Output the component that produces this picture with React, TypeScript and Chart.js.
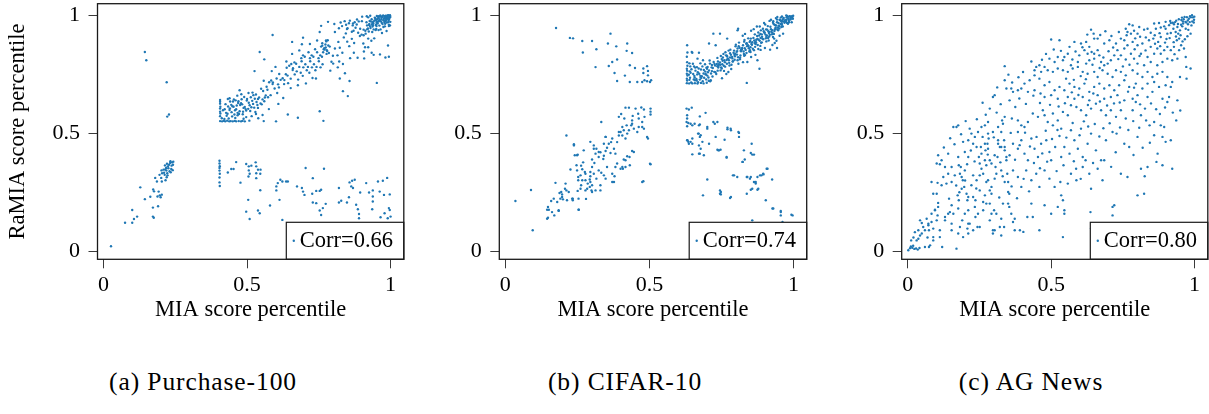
import React, { useEffect, useRef } from 'react';
import { Chart, registerables } from 'chart.js';

Chart.register(...registerables);

// ---------- data ----------
const tickValues = [0, 0.5, 1];
const tickLabels = ['0', '0.5', '1'];
const xTitle = 'MIA score percentile';
const yTitle = 'RaMIA score percentile';
const corrLabels = ['Corr=0.66', 'Corr=0.74', 'Corr=0.80'];
const captions = ['(a) Purchase-100', '(b) CIFAR-10', '(c) AG News'];

// points as [MIA percentile, RaMIA percentile] in percent
const purchasePoints: number[][] = [
  [2.6,2.0],[7.5,12.0],[10.0,12.0],[10.6,13.6],[11.7,14.6],[10.0,17.4],[12.8,27.0],[14.4,22.0],[16.3,23.0],[17.2,18.4],[17.2,14.6],[17.5,14.1],[19.0,19.0],[18.8,23.1],[19.6,23.6],[19.9,22.8],[20.3,23.9],[17.3,26.1],[17.6,25.3],[19.2,25.2],[18.0,31.0],[18.6,29.5],[19.5,32.3],[20.1,31.0],[20.3,29.5],[21.6,30.0],[20.9,34.5],[21.8,35.2],[22.4,35.9],[22.8,36.6],[23.2,37.3],[23.9,37.6],[24.2,36.6],[23.6,34.8],[23.0,33.8],[22.2,33.0],[21.3,32.3],[20.4,33.0],[21.4,36.3],[22.1,37.0],[22.6,35.1],[21.9,34.1],[21.1,33.2],[23.4,33.4],[24.1,34.3],[20.2,34.2],[22.3,32.1],[23.3,38.1],[21.5,34.6],[22.0,31.3],[24.3,37.9],[23.7,36.2],
  [14.4,84.4],[14.9,80.9],[22.0,71.6],[22.2,57.0],[22.8,57.9],
  [40.4,38.3],[40.4,37.1],[40.5,36.0],[40.4,35.2],[40.4,34.1],[40.5,32.8],[40.4,31.2],[40.4,29.1],[40.5,27.6],[43.3,33.3],[44.5,34.8],[45.3,34.8],[46.2,37.7],[47.7,29.0],[49.7,36.9],[50.6,35.9],[50.6,34.2],[50.9,32.8],[50.5,31.6],[51.5,36.2],[53.0,37.6],[53.2,35.9],[53.8,34.5],[53.2,33.0],[54.6,32.8],[54.7,34.5],[53.2,30.9],[54.6,25.8],[50.4,21.7],[49.7,16.7],[50.9,13.6],[53.8,17.2],[54.4,16.0],[58.0,19.3],[60.2,25.7],[60.2,27.4],[60.7,28.8],[61.6,30.2],[62.3,29.5],[63.6,29.5],[64.2,29.5],[61.3,21.7],[62.3,13.2],[67.4,27.4],[69.1,26.7],[69.5,25.2],[70.4,35.2],[70.0,23.8],[72.9,30.9],[72.7,24.3],[74.1,25.5],[75.3,25.5],[75.8,26.0],[72.9,20.6],[74.1,20.3],[75.3,17.2],[76.4,18.2],[77.4,20.0],[75.8,15.3],[76.8,34.9],[82.0,26.7],[82.0,20.6],[82.8,21.3],[84.8,20.6],[85.7,29.1],[86.3,27.4],[86.9,26.7],[86.6,29.8],[87.5,30.2],[85.5,22.8],[88.0,19.6],[88.6,17.7],[89.0,15.7],[89.0,13.9],[89.4,24.8],[91.5,28.8],[92.5,24.8],[93.8,25.7],[93.8,23.1],[93.8,21.0],[93.6,17.7],[95.6,29.5],[96.2,25.2],[97.3,29.8],[98.8,31.0],[97.7,23.8],[99.7,24.0],[96.5,14.3],[97.9,16.0],[99.4,18.2],[99.7,17.4],[100.0,14.6],[99.0,13.9],
  [40.6,55.1],[41.3,55.0],[41.9,55.2],[42.4,55.0],[43.1,55.3],[43.8,55.0],[44.3,55.1],[45.0,55.0],[45.7,55.2],[46.2,55.0],[47.1,55.1],[47.9,55.0],[48.4,55.2],[49.2,55.0],[50.8,55.3],[55.8,55.1],[60.1,55.0],[76.6,55.2],
  [41.2,56.3],[42.1,56.0],[42.9,57.4],[43.6,56.2],[44.8,57.1],[45.9,56.4],[46.7,57.6],[48.8,56.1],[49.7,56.8],[51.6,57.2],[53.9,56.3],[53.1,58.1],[55.4,57.7],
  [40.6,57.2],[40.7,58.3],[40.6,59.1],[40.6,60.4],[40.7,61.2],[40.6,62.5],[40.6,63.3],[40.6,64.1],
  [42.7,58.6],[42.2,60.1],[43.9,59.8],[43.4,61.3],[44.6,58.9],[44.0,60.5],[44.5,62.0],[45.8,59.7],[45.3,61.2],[45.1,63.4],[46.7,58.6],[46.2,60.1],[46.9,62.8],[47.4,59.3],[47.6,61.9],[47.0,63.5],[48.5,58.0],[48.8,60.7],[48.3,62.2],[48.1,64.4],[49.7,59.6],[49.2,61.1],[49.9,63.8],[50.4,60.3],[50.6,62.9],[50.0,64.5],[51.5,61.0],[51.8,63.7],[51.3,65.2],[52.1,62.4],[52.7,64.6],[52.2,66.1],[43.9,64.8],[45.4,64.3],[46.6,65.9],[48.0,66.5],[50.5,67.0],[53.8,60.7],[53.3,63.2],[53.1,66.4],[54.7,62.6],[54.2,65.1],[54.9,68.8],[55.4,64.3],[55.6,67.9],[56.0,63.5],[56.5,66.0],[56.8,69.7],[57.3,65.2],[57.1,68.4],[57.7,71.6],[58.2,66.1],[58.9,70.8],[58.4,72.3],[59.6,68.9],[59.0,71.5],[60.5,67.0],[60.8,70.7],[60.3,73.2],[61.1,69.4],[61.7,72.6],[61.2,75.1],[62.9,70.8],[62.4,73.3],[62.6,64.9],[63.0,72.5],[63.5,75.0],[63.8,77.7],[64.3,71.2],[64.1,74.4],[64.7,78.6],[65.2,73.1],[65.9,76.8],[65.4,79.3],[66.6,74.9],[66.0,77.5],[66.5,80.0],[67.8,72.7],[67.3,76.2],[67.1,79.4],[68.7,75.6],[68.2,78.1],[68.9,81.8],[69.4,74.3],[69.6,77.9],[69.0,80.5],[69.5,83.0],[70.8,76.7],[70.3,79.2],[70.1,82.4],[71.7,75.6],[71.2,78.1],[71.9,81.8],[71.4,84.3],[72.6,77.9],[72.0,80.5],[72.5,83.0],[73.8,76.7],[73.3,79.2],[73.1,82.4],[73.7,85.6],[74.2,78.1],[74.9,81.8],[74.4,84.3],[75.6,77.9],[75.0,80.5],[75.5,83.0],[75.8,86.7],[76.3,79.2],[76.1,82.4],[76.7,85.6],[76.2,87.1],[77.9,84.8],[77.4,86.3],[77.6,88.9],[77.0,85.5],[78.5,84.0],[78.8,86.7],[78.3,87.2],[78.1,89.4],[77.7,83.6],[76.2,88.1],[79.9,82.8],[79.4,80.3],[80.6,85.9],[80.0,79.5],[81.5,83.0],[81.8,88.7],[82.3,86.2],[82.1,80.4],[83.7,90.6],[83.2,84.1],[84.9,88.8],[84.4,92.3],[85.6,86.9],[85.0,94.5],[86.5,90.0],[86.8,95.7],[87.3,88.2],[87.1,93.4],[88.7,92.6],[88.2,96.1],[89.9,91.8],[89.4,94.3],[90.6,93.9],[90.0,97.5],[90.5,88.0],[91.8,95.7],[91.3,92.2],[92.1,94.4],[92.7,97.6],[92.2,90.1],[93.9,95.8],[93.4,98.3],[93.6,92.9],[94.0,96.5],[94.5,99.0],[94.8,93.7],[95.3,97.2],[95.1,95.4],[95.7,99.6],[96.2,98.1],[96.9,96.8],[96.4,99.9],[97.6,97.9],[97.0,99.5],[97.5,95.0],[98.8,98.7],[98.3,99.8],[98.1,96.4],[99.7,99.6],[99.2,97.1],[98.9,99.9],[99.9,99.3],[99.6,98.9],[99.8,100.0],[99.9,97.2],[99.4,95.4],[98.6,93.3],[97.0,92.5],[96.5,94.0],[95.8,93.7],[94.3,90.2],
  [93.3,89.2],[92.2,86.4],[93.4,84.1],[94.1,83.2],[96.3,83.4],[98.2,82.1],[99.4,82.4],[99.1,87.2],[95.2,71.3],[85.1,65.7],[83.4,67.8],[85.7,72.1],[75.3,59.3],[67.7,56.5],[64.2,57.9],[58.9,91.6],[78.2,97.2],[75.8,95.5],[75.3,92.9],[69.5,90.5],[65.7,88.7],[69.1,87.7],[54.4,84.4],[56.0,81.3],[52.6,76.3],[47.4,68.2],[43.3,64.5],[55.8,72.2],[58.6,76.3],[59.9,78.1],[63.7,80.4],[57.6,60.2],[60.9,62.4],[65.2,69.1],[67.7,70.3],[70.5,71.1],[72.8,73.4],[74.0,73.2],
  [65.7,83.6],[68.2,85.1],[71.9,87.8],[74.4,89.3],[80.6,92.9],[82.0,94.5],[84.5,96.0],[85.8,97.7],[88.3,98.2],[90.1,99.4],[91.7,99.6],[92.2,99.1],[92.9,99.8],[80.4,96.3],[82.6,96.9],[84.0,97.5],[86.5,93.0],[87.8,94.7],[89.3,91.2],[91.1,86.4],[90.7,84.6],[87.2,84.1],[85.9,81.8],[83.4,79.3],[81.6,77.9],[79.0,76.5],[88.5,82.0],[90.8,81.7],[82.3,73.2],[84.1,75.4],[94.7,98.6],[95.2,99.7],[95.9,98.8],[97.4,99.9],[97.9,99.0],[99.0,98.5],[97.5,98.0],[95.8,97.3],[95.3,98.2],[93.7,96.7],[93.1,97.4],[92.6,96.3],[99.4,96.0],[99.8,95.7],[98.2,97.4],
  [92.4,93.1],[93.0,94.6],[93.7,95.2],[94.1,94.0],[94.9,95.9],[95.5,96.5],[95.0,94.2],[96.1,95.6],[96.6,97.5],[97.2,96.3],[97.8,97.1],[98.4,98.0],[98.0,95.3],[98.7,96.9],[99.3,97.8],[99.6,99.0],[99.0,99.4],[98.5,99.3],[97.7,98.6],[96.8,98.4],[96.0,97.7],[95.1,96.8],[94.4,97.8],[93.5,96.1],[92.8,95.4],[91.9,94.1],[91.2,93.4],[90.6,91.5],[91.6,97.0],[94.0,97.3],[96.3,99.5],[97.9,99.6],[99.5,98.4],[99.2,100.0],[98.1,98.8],[96.9,99.1],[95.6,98.7],[94.8,97.9],[93.8,96.9],[92.5,95.9],
  [83.1,95.4],[85.5,96.6],[86.9,96.5],[88.9,97.4],[87.5,97.0],[84.8,94.2],
  [41.6,59.7],[42.5,62.3],[43.2,58.2],[44.9,61.4],[45.6,57.9],[46.4,61.7],[47.2,58.1],[47.9,62.7],[48.6,59.1],[49.5,60.2],[50.9,61.8],[51.1,59.4],[52.5,60.8],[53.6,61.9],[52.9,59.0],[44.1,63.4],[46.0,63.9],[49.0,65.3],[51.9,67.2],[53.8,64.5],[55.1,62.2],[56.2,65.1],
  [76.9,86.0],[77.3,87.6],[77.8,85.2],[76.5,84.3],[77.5,89.3]
];

const cifarPoints: number[][] = [
  [17.6,94.6],[22.4,90.4],[23.5,90.2],[26.7,89.1],[30.1,89.1],[26.9,84.2],[31.6,85.6],[31.3,78.0],[36.5,92.2],[35.6,88.0],[38.5,86.8],[42.3,88.0],[42.1,84.9],[44.0,84.0],[43.2,78.8],[38.8,81.2],[37.1,80.2],[35.9,78.5],[37.9,75.5],[38.8,72.1],[41.5,74.4],[45.0,77.6],[47.9,77.4],[49.2,78.4],[47.9,75.5],[49.5,76.4],[49.5,74.5],[43.2,71.7],[45.8,71.7],[47.5,71.7],[48.3,72.4],[49.2,72.0],[50.2,71.7],[50.6,72.4],
  [3.5,21.2],[8.9,25.9],[9.5,8.8],[14.5,13.7],[14.8,18.7],[15.1,17.5],[15.9,21.2],[16.8,22.2],[17.0,15.1],[17.4,28.9],[18.5,17.0],[18.8,24.6],[19.4,25.0],[19.7,24.0],[19.1,22.2],[20.0,21.9],[20.9,28.6],[20.7,26.4],[21.2,25.7],[21.2,49.0],[22.6,34.6],[23.4,22.2],[23.8,45.3],[24.1,40.6],[24.7,36.4],[24.9,34.2],[25.1,40.9],[25.3,31.4],[25.3,30.0],[26.1,32.1],[26.3,27.9],[26.1,26.4],[26.3,36.2],[26.7,34.7],[27.0,37.6],[27.2,42.7],[25.4,17.5],[28.0,22.1],[29.3,30.3],[29.5,33.5],[29.9,25.7],[30.1,35.6],[30.9,37.3],[30.1,38.8],[31.3,41.3],[31.6,43.4],[30.7,44.8],[32.4,39.9],[33.0,41.9],[34.0,39.0],[34.2,40.4],[34.8,42.4],[35.3,43.8],[34.8,48.4],[35.9,45.5],[36.7,46.2],[36.5,41.6],[37.7,43.4],[38.2,41.3],[38.8,46.2],[39.4,49.0],[40.0,50.5],[40.6,49.0],[41.1,51.2],[41.7,47.7],[42.3,49.8],[42.9,51.2],[43.7,53.3],[44.6,51.9],[45.8,50.5],[46.3,52.6],[44.0,54.0],[47.5,54.7],[47.5,52.6],[49.2,48.4],[49.5,47.7],[50.2,37.0],[50.4,36.8],[47.9,29.6],
  [21.4,21.5],[23.4,21.5],[25.4,22.2],[27.8,25.7],[29.3,27.2],[30.1,27.9],[31.6,30.7],[32.4,34.2],[33.3,33.2],[34.2,32.1],[35.3,35.6],[37.1,29.3],[37.9,31.7],[38.8,37.1],[40.6,35.6],[41.1,38.8],[42.3,40.2],[43.2,36.4],[44.0,42.4],[40.8,34.9],[30.1,25.0],[33.0,25.7],[28.6,28.6],[27.8,30.0],[29.5,31.7],[30.7,32.8],[27.6,33.5],[25.1,25.5],
  [23.8,44.8],[24.9,40.6],[29.5,46.3],[30.7,43.4],[32.4,42.0],[34.2,45.5],[34.8,48.4],[37.1,47.7],[39.4,50.5],[40.6,52.6],[42.1,53.3],[44.0,55.4],[46.3,56.2],[48.1,51.9],[47.5,29.3],[28.4,26.4],[22.0,25.0],[19.7,22.9],[18.0,20.8],[16.2,16.5],[14.8,14.1],[14.5,17.5],[18.5,17.3],[23.2,22.2],[25.5,17.5],[26.7,30.0],[27.8,32.8],[29.5,29.3],[31.3,25.7],[33.0,27.9],[34.8,30.7],[37.1,32.8],[37.7,29.3],[40.0,34.9],[41.7,38.5],[43.1,39.9],[44.6,42.0],[41.7,35.6],[38.2,35.6],
  [33.3,54.7],[39.4,56.9],[41.7,60.8],[42.9,60.8],[45.2,60.4],[48.1,60.0],[50.4,60.4],[50.4,57.9],[48.3,56.9],[50.4,59.1],[44.2,57.3],[46.1,58.2],[47.2,60.9],[41.3,56.2],[40.2,58.1],
  [62.9,60.4],[63.7,60.0],[63.1,57.6],[63.1,56.2],[63.5,54.3],[63.1,52.9],[64.7,60.8],[63.1,47.0],[63.5,46.3],[64.9,45.5],[64.9,41.0],[67.2,53.3],[67.5,57.1],[67.1,49.8],[67.5,48.4],[68.4,46.3],[67.2,44.8],[67.2,41.3],[69.5,58.6],[70.1,51.9],[70.7,45.5],[70.1,30.3],[68.6,23.6],[73.6,54.7],[73.0,48.4],[73.6,43.0],[74.2,42.7],[74.8,25.0],[74.8,24.0],[77.1,51.6],[78.3,51.2],[76.8,39.9],[78.3,22.9],[80.9,50.5],[81.1,48.4],[82.8,42.7],[82.4,37.8],[79.4,32.1],[80.5,31.4],[83.8,24.3],[85.5,45.5],[85.7,40.9],[83.8,31.4],[84.9,30.7],[86.3,29.3],[87.5,31.4],[88.9,32.1],[89.5,32.8],[91.0,34.9],[92.6,30.3],[85.7,26.4],[87.8,26.4],[90.4,21.5],[92.7,18.0],[95.6,16.5],[95.6,15.1],[99.7,15.1],[85.7,13.0],[96.2,12.3],[86.9,28.6],
  [62.9,54.7],[64.3,54.0],[64.9,53.3],[65.7,54.0],[67.5,53.7],[63.2,47.0],[64.3,46.3],[64.9,47.7],[63.7,45.5],[66.9,49.8],[67.8,49.1],[67.8,43.4],[67.5,41.3],[68.9,40.6],[70.1,52.6],[72.2,54.7],[72.7,54.0],[73.9,42.7],[74.7,43.0],[76.1,47.2],[76.8,39.6],[77.1,52.3],[78.2,51.9],[81.1,50.1],[85.2,41.6],[86.3,40.9],[82.3,37.8],[83.1,38.8],[79.0,32.1],[84.0,31.4],[85.2,31.4],[86.9,29.3],[88.4,32.1],[89.6,32.5],[90.7,34.9],[85.2,26.0],[87.5,26.0],[74.5,25.7],[74.5,24.3],[78.0,22.5],[93.0,18.0],[95.6,17.0],[99.3,15.4],
  [63.0,71.2],[63.1,72.3],[63.0,73.1],[63.2,74.4],[63.0,75.2],[63.1,76.5],[63.0,77.3],[63.2,78.6],[63.1,80.1],[63.0,82.4],[63.2,84.2],[63.1,87.3],[63.8,71.1],[63.9,72.6],[64.1,73.5],[63.7,74.8],[64.0,76.2],[64.2,78.3],[63.9,79.6],[64.7,84.4],
  [64.9,71.1],[65.8,71.2],[66.7,71.0],[67.9,71.3],[68.8,71.1],[69.9,71.4],[71.1,72.0],[83.8,71.3],
  [65.7,73.6],[65.2,75.1],[65.9,77.8],[66.4,72.3],[66.6,74.9],[66.0,76.5],[66.5,78.0],[67.8,73.7],[67.3,75.2],[67.1,77.4],[67.7,79.6],[68.2,74.1],[68.9,76.8],[68.4,78.3],[68.6,80.9],[69.0,73.5],[69.5,75.0],[69.8,77.7],[69.3,79.2],[70.1,74.4],[70.7,76.6],[70.2,78.1],[70.9,80.8],[71.4,75.3],[71.6,77.9],[71.0,79.5],[72.5,76.0],[72.8,78.7],[72.3,80.2],[65.1,79.4],[66.7,81.6],[67.2,84.1],[64.9,84.1],[70.7,88.0],[72.2,92.2],[74.5,92.2],[77.0,90.1],[73.0,87.3],[70.6,72.2],[71.3,72.4],[75.9,76.4],[77.4,75.9],
  [73.9,77.8],[73.4,79.3],[73.6,81.9],[74.0,78.5],[74.5,80.0],[74.8,82.7],[75.3,79.2],[75.1,81.4],[75.7,83.6],[76.2,80.1],[76.9,82.8],[76.4,84.3],[77.6,80.9],[77.0,82.5],[77.5,85.0],[78.8,81.7],[78.3,83.2],[78.1,85.4],[79.7,82.6],[79.2,84.1],[79.9,86.8],[80.4,83.3],[80.6,85.9],[80.0,87.5],[81.5,82.0],[81.8,84.7],[81.3,86.2],[81.1,88.4],[82.7,84.6],[82.2,86.1],[82.9,88.8],[83.4,85.3],[83.6,87.9],[83.0,89.5],[84.5,86.0],[84.8,88.7],[84.3,90.2],[85.1,86.4],[85.7,88.6],[85.2,90.1],[86.9,87.8],[86.4,89.3],[86.6,91.9],[87.0,88.5],[87.5,90.0],[87.8,92.7],[88.3,89.2],[88.1,91.4],[88.7,93.6],[89.2,90.1],[89.9,92.8],[89.4,94.3],[90.6,90.9],[90.0,92.5],[90.5,94.0],[91.8,91.7],[91.3,93.2],[91.1,95.4],[92.7,92.6],[92.2,94.1],[92.9,96.8],[93.4,93.3],[93.6,95.9],[93.0,97.5],[94.5,94.0],[94.8,96.7],[94.3,98.2],[95.1,95.4],[95.7,97.6],[95.2,98.1],[96.9,96.8],[96.4,97.3],[96.6,98.9],[97.0,97.5],[97.5,98.0],[97.8,99.7],[98.3,98.2],[98.1,99.4],[98.7,99.6],[99.2,99.1],[99.9,99.8],[99.4,99.3],[99.6,98.9],[99.0,98.5],[98.5,97.0],[97.8,96.7],[96.3,95.2],[95.1,94.4],[94.7,93.6],[93.2,92.1],[92.9,90.8],[91.4,89.3],[90.6,88.9],[89.0,88.5],[88.5,87.0],[87.8,85.7],[86.3,85.2],[85.1,84.4],[84.7,84.6],[83.2,83.1],[82.9,82.8],[81.4,81.3],[80.6,80.9],[79.0,80.5],[78.5,79.0],[77.8,78.7],[76.3,78.2],[75.1,77.4],[74.7,76.6],[73.2,75.1],
  [80.6,93.6],[80.8,94.3],[84.0,80.2],[87.5,80.9],[88.2,77.3],[91.9,85.4],[94.1,89.2],[94.3,86.1],[91.2,90.4],[93.3,90.1],[95.2,91.3],[96.4,92.2],[90.2,96.1],[88.3,95.2],[86.2,94.1],[85.3,93.4],[83.2,92.1],[82.4,91.3],[91.7,97.6],[92.2,98.1],[93.9,98.8],[94.4,99.3],[95.6,99.0],[96.0,99.5],[97.5,99.9],[89.8,96.7],[87.3,95.2],[98.1,96.4],[99.4,97.0],[99.8,98.5],[96.2,98.0],[95.5,96.3],[94.0,95.7],[93.8,94.2],[92.3,93.0],[91.5,92.5],[90.8,91.4],[89.0,91.9],[88.6,90.4],[87.1,89.6],[86.6,88.1],[85.4,87.8],[84.2,87.3],[83.9,86.9],[82.1,85.4],[81.7,85.0],[80.3,84.5],[79.5,83.2],[78.0,82.1],[77.2,81.6],[76.8,81.0],[75.4,80.7],[74.1,79.2],[73.6,78.4],[72.0,77.6],[71.7,76.3],[70.3,75.8],[69.6,74.9],[68.0,73.4],[67.5,72.7],[66.3,73.0],[65.8,72.4],[75.2,73.3],[76.7,75.1],[78.4,77.2],[80.9,79.4],[82.5,80.1],[85.3,82.3],[86.8,83.2],[88.6,85.3],[90.1,86.1],[92.7,87.4],[93.5,88.2],
  [72.6,79.3],[73.8,80.4],[74.6,79.0],[75.5,82.1],[76.0,80.9],[76.6,83.0],[77.3,81.5],[78.0,83.9],[78.7,82.3],[79.4,85.0],[79.8,83.7],[80.5,84.8],[81.0,86.9],[81.9,85.6],[82.5,87.3],[83.1,86.0],[83.8,88.1],[84.4,87.0],[85.0,89.1],[85.6,87.5],[86.1,90.4],[86.8,88.8],[87.4,91.2],[87.9,89.6],[88.5,92.1],[89.1,90.9],[89.7,93.2],[90.3,91.8],[90.9,93.9],[91.5,92.9],[92.0,95.1],[92.6,93.7],[93.2,96.2],[93.8,94.8],[94.3,97.0],[94.9,95.6],[95.4,97.9],[95.9,96.6],[96.5,98.5],[97.1,97.9],[97.6,99.0],[98.2,98.6],[98.8,99.5],[99.5,99.6],[99.0,98.2],[98.4,97.6],[97.4,97.2],[96.0,96.0],[95.8,95.0],[94.6,94.8],[93.5,94.0],[92.5,91.9],[91.6,91.0],[90.4,90.2],[89.5,89.8],[88.8,88.3],[87.6,87.4],[86.7,86.6],[85.9,85.8],[84.9,85.2],[83.7,84.0],[82.8,83.6],[81.6,82.9],[80.8,82.2],[79.6,81.1],[78.9,80.4],[77.7,79.8],[76.9,79.4],[75.8,78.6],[74.9,77.9],[73.7,76.5],[72.9,75.8],
  [64.5,71.5],[65.4,72.8],[66.9,71.6],[67.7,74.3],[68.5,72.0],[69.7,72.8],[64.3,75.6],[65.6,74.3],[66.8,75.8],[67.9,77.0],[68.8,75.3],[69.4,76.1],[70.5,73.6],[71.9,74.0],[70.0,77.3],[71.7,78.9],[64.6,77.1],[65.5,78.3]
];

const agNewsPoints: number[][] = [
  [0.2,0.3],[0.8,1.2],[1.1,1.9],[1.6,1.4],[2.3,0.9],[2.9,1.1],[3.5,0.6],[4.1,1.3],[1.9,2.2],[1.2,4.5],[3.7,5.2],[6.0,1.7],[7.4,1.7],[8.9,5.9],
  [4.9,7.4],[6.0,8.8],[7.2,10.9],[8.3,15.8],[9.5,17.3],[10.6,18.7],[10.1,13.0],[12.0,1.7],[13.0,14.4],[14.1,15.8],[15.3,11.6],[17.0,1.0],[17.6,7.4],[18.2,10.2],[19.0,13.0],[19.9,15.8],[21.1,11.6],[22.8,8.8],[23.6,14.4],[25.1,10.2],[26.3,17.3],[27.4,20.1],[28.6,13.0],[29.7,8.8],[30.9,15.8],[32.6,6.6],[33.6,10.2],[35.0,20.1],[35.4,18.7],[37.3,13.7],[39.1,8.8],[40.3,8.1],[41.7,14.4],[43.1,20.1],[43.6,14.4],[45.9,8.8],[47.7,19.4],[50.0,15.8],[52.3,18.7],[54.1,5.9],[54.6,17.3],[54.6,15.8],[63.7,16.5],[63.9,9.5],[71.4,18.7],[71.4,15.1],[72.0,19.4],
  [2.0,5.7],[2.5,8.0],[3.7,8.8],[4.3,6.6],[3.1,4.5],[4.9,11.9],[5.4,10.2],[4.3,13.0],[6.6,13.7],[7.2,11.6],[7.4,8.8],[8.3,12.3],[8.9,9.5],[9.5,17.5],[10.4,15.1],[11.2,8.8],[11.2,5.9],[8.9,4.5],[7.8,2.4],[6.9,5.7],[10.1,24.3],[10.6,20.4],[10.4,28.9],[11.2,36.8],[11.8,38.5],[13.0,35.6],[14.1,32.8],[13.5,28.6],[14.4,22.2],[14.7,16.5],[15.3,19.4],[13.0,13.0],[15.9,15.8],[15.3,8.8],[17.6,18.0],[17.8,21.5],[17.4,23.6],[18.2,32.8],[17.6,39.9],[18.5,35.6],[18.8,26.4],[19.2,30.0],[19.9,34.2],[20.5,24.3],[20.8,21.5],[21.1,17.3],[21.6,11.6],[20.8,9.5],[21.1,7.4],[19.3,5.9],[22.2,27.9],[22.8,22.9],[23.4,18.7],[23.6,21.5],[24.3,10.2],[24.5,15.8],[25.1,32.1],[24.8,39.9],[25.5,44.1],[25.1,37.1],[25.7,34.9],[26.3,32.8],[26.9,38.5],[27.1,42.7],[27.8,45.5],[28.0,49.8],[28.2,47.7],[27.4,36.4],[28.0,30.0],[28.6,25.7],[28.6,20.1],[29.2,15.8],[30.3,8.8],[30.1,17.3],[29.2,24.3],[30.3,30.7],[30.6,35.6],[31.3,39.9],[31.5,45.5],[32.1,44.1],[32.6,50.5],[33.2,54.0],[32.9,55.4],[33.8,56.9],[33.6,47.0],[33.8,44.1],[34.4,39.9],[34.7,32.8],[35.0,29.3],[35.4,24.3],[36.1,15.8],[36.7,12.3],[37.3,8.8],[33.2,20.1],[32.6,13.7],[32.1,10.2],[29.7,7.4],
  [98.4,99.6],[99.1,100.0],[97.3,99.2],[96.2,98.3],[98.0,98.5],[99.8,98.1],[95.4,98.0],[97.6,97.8],[96.8,97.2],[94.5,98.3],[95.9,97.4],[97.1,96.9],[99.4,99.1],[99.9,99.4],[96.5,99.3],[93.6,97.7],[94.2,96.3],[95.3,96.0],[99.2,97.4],[98.3,97.1],[97.7,96.2],[99.7,96.9],[96.0,96.5],[93.2,97.1],[92.4,96.8],[91.5,97.6],[95.6,99.0],[98.7,99.1],
  [85.9,96.5],[87.6,96.7],[89.9,97.2],[91.7,96.7],[92.8,96.2],[91.1,95.8],[89.4,95.3],[88.2,94.8],[94.0,95.0],[92.6,94.3],[94.9,93.6],[93.4,92.9],[95.7,95.3],[96.9,94.3],[98.6,92.2],[83.6,94.3],[82.4,93.9],[80.7,95.0],[78.4,95.7],[77.2,96.2],[76.0,94.3],[76.6,92.9],[77.8,92.2],[80.1,92.2],[78.9,93.4],[84.7,92.6],[86.5,94.3],[89.9,94.3],[90.5,92.2],[91.7,92.5],[94.3,92.2],[95.1,91.5],[94.6,90.1],[93.8,89.4],[63.9,93.9],[64.8,92.2],
  [50.0,89.7],[52.9,89.4],[65.0,90.1],[66.2,90.1],[63.3,86.6],[61.6,85.2],[62.7,83.7],[64.1,84.4],[65.0,83.7],[66.2,85.2],[63.3,80.9],[62.2,79.5],[65.0,81.6],[66.8,83.0],[68.5,88.0],[70.3,89.4],[72.6,88.0],[74.3,90.1],[75.5,89.4],[76.6,87.3],[78.4,88.7],[80.1,87.3],[81.8,88.0],[84.7,86.6],[87.0,85.9],[85.9,83.7],[88.2,83.7],[89.4,85.2],[90.5,86.6],[91.7,85.2],[92.8,86.6],[94.6,85.2],[96.3,85.9],[96.9,82.3],[94.0,81.6],[92.2,80.9],[90.5,81.6],[88.8,80.2],[87.0,78.8],[84.7,80.2],[82.4,78.8],[80.1,79.5],[78.9,81.6],[77.8,83.7],[76.0,81.2],[74.3,83.0],[73.1,85.2],[72.0,83.0],[70.8,80.9],[69.7,79.5],[68.5,78.8],[67.4,80.2],[59.8,83.0],[59.3,80.2],[56.9,78.8],[56.4,86.6],[54.6,82.3],[54.1,80.9],[55.8,83.7],[52.3,82.3],[51.2,80.2],[49.4,81.6],[47.7,78.1],[45.9,78.8],[44.8,78.1],[58.1,88.7],[60.4,88.0],[62.2,88.7],[81.3,83.7],[83.6,82.3],[75.5,85.9],[85.6,90.1],[88.2,90.8],[87.3,88.7],[97.1,78.1],
  [33.8,78.4],[44.2,76.7],[46.5,76.0],[48.8,76.7],[50.6,76.0],[52.3,77.4],[54.1,76.7],[55.8,76.0],[57.5,77.4],[59.3,78.1],[61.0,76.0],[62.7,75.2],[65.0,76.0],[66.2,73.8],[67.9,76.7],[69.7,75.2],[71.4,73.8],[72.6,76.7],[74.3,76.0],[76.0,74.5],[78.4,76.7],[80.1,75.2],[81.8,73.8],[83.6,76.0],[85.3,73.8],[87.0,75.2],[88.8,76.0],[90.5,73.8],[92.2,71.7],[91.7,69.6],[89.9,70.3],[87.6,69.6],[85.9,71.7],[83.6,71.0],[81.8,68.9],[79.5,71.0],[77.2,69.6],[75.5,72.4],[73.7,70.3],[72.0,68.2],[70.3,70.3],[68.5,68.9],[66.8,71.0],[65.0,69.6],[63.3,67.5],[61.6,71.0],[59.8,68.9],[58.1,69.6],[56.4,71.0],[54.6,68.2],[52.9,69.6],[51.2,68.2],[49.4,71.7],[47.7,70.3],[45.9,73.1],[44.2,74.5],[42.5,72.4],[40.7,71.0],[39.6,68.9],[36.1,68.9],[36.7,67.5],[38.4,68.2],[41.9,67.5],[44.2,68.2],[46.3,66.8],[47.7,65.3],[50.0,66.1],[52.3,64.6],[55.8,65.3],[58.1,64.6],[61.0,65.3],[63.3,63.9],[66.2,66.1],[68.5,64.6],[70.8,65.3],[73.1,66.1],[75.5,63.9],[78.4,64.6],[80.1,66.1],[83.6,65.3],[85.3,67.5],[88.8,64.6],[91.1,65.3],[94.0,63.9],[94.9,73.8],[97.2,73.1],[98.6,77.4],
  [28.6,60.4],[29.7,65.3],[30.3,66.1],[33.8,72.4],[34.4,68.9],[35.5,63.9],[37.5,61.1],[31.5,52.6],[29.7,50.5],[28.0,54.7],[26.9,53.3],[25.7,52.6],[24.5,50.5],[23.4,48.4],[21.6,51.9],[22.2,49.8],[21.1,47.0],[19.3,46.3],[17.6,53.3],[17.0,52.6],[15.9,52.6],[36.3,56.2],[38.4,55.4],[39.6,53.3],[40.7,52.6],[41.9,54.7],[43.6,58.3],[45.4,56.9],[47.1,59.7],[47.7,57.6],[48.8,54.7],[50.6,58.3],[52.3,55.4],[54.1,59.0],[55.8,57.6],[56.9,61.8],[58.8,61.1],[60.4,59.7],[62.2,57.6],[63.9,60.4],[65.6,62.5],[67.4,59.7],[69.1,57.6],[70.8,59.7],[72.6,56.9],[74.3,59.7],[76.0,56.2],[78.4,59.7],[79.5,63.2],[81.3,57.6],[83.1,55.4],[84.3,53.3],[85.9,54.7],[88.2,53.3],[89.4,52.6],[90.5,63.2],[50.6,53.3],[53.5,51.9],[56.9,51.2],[60.4,51.9],[38.4,50.5],
  [10.1,37.1],[10.6,40.6],[14.1,41.3],[15.3,35.6],[17.8,36.4],[19.9,42.0],[21.1,39.9],[22.8,45.5],[24.0,44.1],[25.7,41.3],[26.9,45.5],[28.0,43.4],[28.6,38.5],[29.2,37.1],[30.3,40.6],[31.5,47.0],[32.6,44.1],[33.8,42.7],[34.4,38.5],[35.5,40.6],[36.7,45.5],[38.4,43.4],[39.6,47.0],[40.7,41.3],[41.9,38.5],[43.1,47.7],[44.2,43.4],[45.4,39.9],[46.5,45.5],[48.3,47.0],[49.4,42.0],[50.0,38.5],[51.4,44.1],[52.9,48.8],[54.6,44.1],[53.5,39.9],[56.4,41.3],[58.1,47.0],[59.3,43.4],[61.0,39.9],[62.7,45.5],[63.9,49.8],[65.6,42.7],[67.4,38.5],[69.1,47.0],[71.4,50.5],[75.5,45.5],[77.2,44.1],[80.1,48.4],[85.9,49.1],[88.8,48.4],[89.9,46.3],[87.1,41.3],[86.7,37.8],[88.8,36.4],[91.7,47.0],[92.2,34.9],[83.6,35.6],
  [8.3,29.3],[8.9,24.3],[11.8,27.9],[12.4,31.4],[15.3,29.3],[16.4,32.1],[18.8,31.4],[19.7,27.2],[21.1,22.9],[22.8,32.1],[24.0,30.0],[25.1,25.7],[26.9,23.6],[27.4,29.3],[29.2,27.2],[30.9,32.8],[32.6,34.2],[33.8,29.3],[35.0,25.0],[36.7,34.2],[38.4,31.4],[39.6,27.2],[41.3,34.2],[43.1,30.0],[44.8,32.8],[45.9,27.2],[47.7,34.2],[49.4,30.7],[51.2,27.2],[53.2,29.3],[53.5,23.6],[54.1,21.5],[55.8,28.6],[56.9,32.8],[58.8,30.0],[61.0,35.6],[63.3,32.8],[63.9,26.4],[66.2,34.9],[67.9,30.0],[68.5,38.5],[74.3,32.8],[76.6,31.4],[80.1,23.6],[82.4,24.3],[81.3,34.9],[82.6,31.7],[58.7,34.9],
  [55.2,73.1],[57.9,72.6],[60.3,74.2],[62.1,72.9],[64.4,79.0],[66.9,77.6],[68.2,82.1],[70.0,84.7],[71.6,86.3],[73.4,81.4],[75.0,78.3],[77.3,79.0],[79.1,85.6],[80.8,82.7],[82.9,85.1],[84.1,89.4],[86.2,87.9],[88.0,86.9],[89.7,88.4],[91.3,90.3],[92.7,88.6],[93.0,83.5],[95.3,87.3],[96.6,89.8],[97.8,93.8],[98.9,95.7],[97.5,91.1],[95.8,88.9],[93.5,91.0],[90.2,89.9],[87.8,92.4],[86.1,91.5],[83.0,90.6],[81.0,90.9],[79.3,90.2],[76.3,91.5],[73.6,92.9],[71.0,91.2],[68.9,93.2],[67.1,91.6],[62.6,91.8],[60.9,86.4],[58.5,84.6],[57.4,81.2],[53.4,84.9],[50.9,85.5],[48.2,83.6],[46.8,81.1],[43.1,80.4],[40.2,75.9],[38.6,73.7],[36.4,71.5],[35.1,74.8],[31.2,69.4],[32.4,62.3],[31.0,58.7],[27.2,57.8],[26.1,62.9],[24.1,55.9],[20.2,55.1],[18.6,49.5],[16.3,45.3],[14.8,47.8],[12.6,43.9],[38.9,64.7],[41.2,62.4],[43.8,65.9],[46.1,62.8],[49.6,62.0],[52.6,61.3],[54.8,62.7],[57.2,67.3],[59.5,66.2],[62.8,61.9],[64.7,66.8],[67.0,63.4],[69.5,61.7],[71.9,62.6],[73.9,63.0],[76.8,67.6],[78.9,69.3],[81.0,62.2],[82.7,60.4],[84.8,62.6],[86.6,60.1],[87.9,58.1],[89.7,60.9],[92.4,58.7],[93.6,55.4],[95.0,59.6],
  [20.7,36.8],[22.0,42.6],[23.3,38.0],[26.1,48.4],[27.9,40.9],[30.0,48.2],[32.3,37.6],[35.9,50.1],[37.4,38.7],[39.0,44.9],[40.9,50.2],[42.6,44.3],[44.9,48.4],[46.9,41.4],[48.1,51.0],[50.3,47.5],[52.2,51.3],[55.3,48.1],[57.5,54.3],[59.9,49.1],[61.4,55.0],[62.9,52.8],[65.2,53.9],[66.8,48.6],[68.2,52.1],[70.4,54.2],[72.8,49.8],[74.0,52.4],[76.9,51.3],[78.6,55.1],[80.7,52.3],[16.9,27.8],[18.0,24.9],[20.0,29.9],[23.9,26.5],[26.3,20.8],[31.9,22.7],[33.1,31.7],[36.2,27.4],[38.1,22.4],[40.4,30.6],[42.3,25.3],[44.0,37.3],[46.1,35.1],[48.6,37.9],[51.9,33.9],[54.3,36.4],[57.9,38.1],[60.3,30.6],[62.0,38.5],[64.6,37.3],[70.9,35.7],[72.5,41.9],[78.7,40.7],[81.9,43.8],[84.4,45.9]
];

// ---------- layout constants ----------
const SERIF = '"Liberation Serif", "Times New Roman", Times, serif';
const BLUE = '#1f77b4';
const CANVAS_H = 340;
const BOX_TOP = 3.7;
const BOX_BOTTOM = 259.3;
const X_MIN = -0.021;
const X_MAX = 1.046;
const Y_MIN = -0.0352;
const Y_MAX = 1.049;

type PanelSpec = {
  left: number;
  width: number;
  boxLeft: number;
  boxRight: number;
  points: number[][];
  corr: string;
  showYTitle: boolean;
};

const panels: PanelSpec[] = [
  { left: 0, width: 405, boxLeft: 97.5, boxRight: 404.3, points: purchasePoints, corr: corrLabels[0], showYTitle: true },
  { left: 405, width: 405, boxLeft: 499.3, boxRight: 806.7, points: cifarPoints, corr: corrLabels[1], showYTitle: false },
  { left: 810, width: 399, boxLeft: 901.7, boxRight: 1208, points: agNewsPoints, corr: corrLabels[2], showYTitle: false },
];

const captionCenters = [203, 625, 1031];

const framePlugin = {
  id: 'frameAndLegend',
  afterDatasetsDraw(chart: any) {
    const { ctx, chartArea: a } = chart;
    ctx.save();
    const lw = 117.5;
    const lh = 37;
    const lx = a.right - lw;
    const ly = a.bottom - lh;
    ctx.fillStyle = '#ffffff';
    ctx.fillRect(lx, ly, lw, lh);
    ctx.strokeStyle = '#1a1a1a';
    ctx.lineWidth = 1.2;
    ctx.strokeRect(lx, ly, lw, lh);
    ctx.fillStyle = BLUE;
    ctx.beginPath();
    ctx.arc(lx + 7.5, ly + lh / 2, 1.2, 0, Math.PI * 2);
    ctx.fill();
    ctx.fillStyle = '#000000';
    ctx.font = `22.5px ${SERIF}`;
    ctx.textAlign = 'left';
    ctx.textBaseline = 'alphabetic';
    ctx.fillText(chart.data.datasets[0].label, lx + 13.5, a.bottom - 12);
    ctx.strokeStyle = '#1a1a1a';
    ctx.lineWidth = 1.3;
    ctx.strokeRect(a.left, a.top, a.right - a.left, a.bottom - a.top);
    ctx.restore();
  },
};

function Panel({ spec }: { spec: PanelSpec }) {
  const ref = useRef<HTMLCanvasElement>(null);
  useEffect(() => {
    if (!ref.current) return;
    const data = spec.points.map(([x, y]) => ({ x: x / 100, y: y / 100 }));
    const tickFont = { family: SERIF, size: 22 };
    const titleFont = { family: SERIF, size: 22.5 };
    const chart = new Chart(ref.current, {
      type: 'scatter',
      data: {
        datasets: [
          {
            label: spec.corr,
            data,
            backgroundColor: BLUE,
            borderColor: BLUE,
            pointRadius: 1.2,
            pointBorderWidth: 0,
            pointHoverRadius: 1.2,
          },
        ],
      },
      options: {
        animation: false,
        responsive: false,
        devicePixelRatio: 1,
        events: [],
        layout: {
          padding: {
            left: 0,
            top: BOX_TOP,
            right: spec.left + spec.width - spec.boxRight,
            bottom: 0,
          },
        },
        plugins: {
          legend: { display: false },
          tooltip: { enabled: false },
        },
        scales: {
          x: {
            type: 'linear',
            position: 'bottom',
            min: X_MIN,
            max: X_MAX,
            afterBuildTicks: (s: any) => {
              s.ticks = tickValues.map((v) => ({ value: v }));
            },
            afterFit: (s: any) => {
              s.height = CANVAS_H - BOX_BOTTOM;
              s.paddingLeft = 0;
              s.paddingRight = 0;
              s.paddingTop = 0;
              s.paddingBottom = 0;
            },
            grid: { drawOnChartArea: false, drawTicks: true, tickLength: 9, color: '#3a3a3a', lineWidth: 1 },
            border: { display: false },
            ticks: {
              color: '#000',
              font: tickFont,
              padding: 4,
              maxRotation: 0,
              autoSkip: false,
              callback: (_v: any, i: number) => tickLabels[i],
            },
            title: {
              display: true,
              text: xTitle,
              color: '#000',
              font: titleFont,
              padding: { top: 0, bottom: 16.5 },
            },
          },
          y: {
            type: 'linear',
            position: 'left',
            min: Y_MIN,
            max: Y_MAX,
            afterBuildTicks: (s: any) => {
              s.ticks = tickValues.map((v) => ({ value: v }));
            },
            afterFit: (s: any) => {
              s.width = spec.boxLeft - spec.left;
              s.paddingLeft = 0;
              s.paddingRight = 0;
              s.paddingTop = 0;
              s.paddingBottom = 0;
            },
            grid: { drawOnChartArea: false, drawTicks: true, tickLength: 9, color: '#3a3a3a', lineWidth: 1 },
            border: { display: false },
            ticks: {
              color: '#000',
              font: tickFont,
              padding: 8.5,
              autoSkip: false,
              callback: (_v: any, i: number) => tickLabels[i],
            },
            title: {
              display: spec.showYTitle,
              text: yTitle,
              color: '#000',
              font: titleFont,
              padding: { top: 4.5, bottom: 0 },
            },
          },
        },
      },
      plugins: [framePlugin],
    } as any);
    return () => chart.destroy();
  }, [spec]);

  return (
    <canvas
      ref={ref}
      width={spec.width}
      height={CANVAS_H}
      style={{ position: 'absolute', left: spec.left, top: 0, width: spec.width, height: CANVAS_H }}
    />
  );
}

export default function App() {
  return (
    <div
      style={{
        position: 'absolute',
        left: 0,
        top: 0,
        width: 1209,
        height: 414,
        background: '#ffffff',
        overflow: 'hidden',
      }}
    >
      {panels.map((p, i) => (
        <Panel key={i} spec={p} />
      ))}
      {captions.map((c, i) => (
        <div
          key={c}
          style={{
            position: 'absolute',
            left: captionCenters[i] - 150,
            width: 300,
            top: 368,
            textAlign: 'center',
            fontFamily: SERIF,
            fontSize: 25.5,
            lineHeight: '28px',
            letterSpacing: '0.9px',
            color: '#000',
            whiteSpace: 'nowrap',
          }}
        >
          {c}
        </div>
      ))}
    </div>
  );
}
